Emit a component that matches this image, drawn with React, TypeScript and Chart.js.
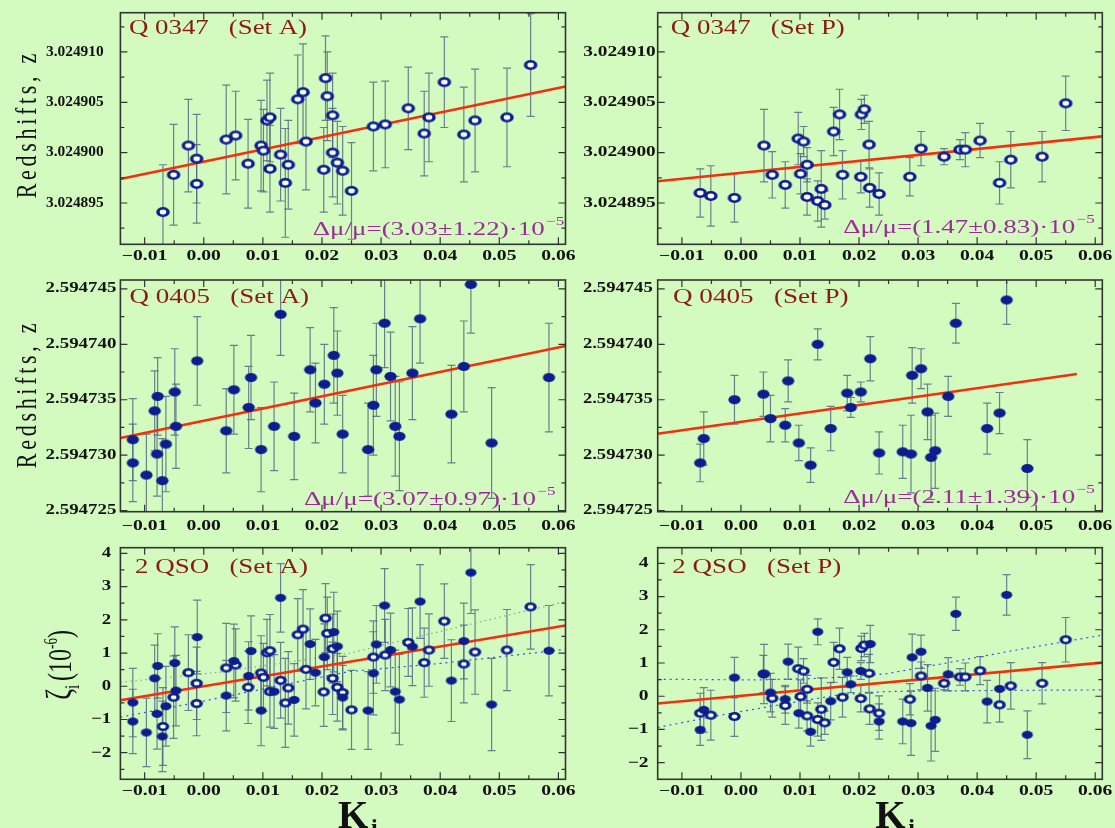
import { useEffect, useRef } from 'react';
import { Chart, registerables } from 'chart.js';

Chart.register(...registerables);

// ---------- axes ----------
const K_MIN = -0.0141;
const K_MAX = 0.0612;
const kTicks = [-0.01, 0.0, 0.01, 0.02, 0.03, 0.04, 0.05, 0.06];
const zTicksQ0347 = [3.024895, 3.0249, 3.024905, 3.02491];
const zTicksQ0405 = [2.594725, 2.59473, 2.594735, 2.59474, 2.594745];
const zetaTicks = [-2, -1, 0, 1, 2, 3, 4];

// ---------- Q 0347, Set A ----------
const kQ0347A = [-0.0069, -0.0051, -0.0026, -0.0012, -0.0012, 0.0038, 0.0054, 0.0075, 0.0097, 0.0101, 0.0107, 0.0112, 0.0112, 0.013, 0.0138, 0.0143, 0.0159, 0.0168, 0.0173, 0.0203, 0.0206, 0.0209, 0.0218, 0.0218, 0.0226, 0.0235, 0.025, 0.0287, 0.0307, 0.0346, 0.0373, 0.0381, 0.0407, 0.044, 0.0459, 0.0513, 0.0553];
const zQ0347A = [3.0248941, 3.0248978, 3.0249007, 3.0248994, 3.0248969, 3.0249013, 3.0249017, 3.0248989, 3.0249007, 3.0249002, 3.0249032, 3.0249035, 3.0248984, 3.0248998, 3.024897, 3.0248988, 3.0249053, 3.024906, 3.0249011, 3.0248983, 3.0249074, 3.0249056, 3.0249037, 3.0249, 3.024899, 3.0248982, 3.0248962, 3.0249026, 3.0249028, 3.0249044, 3.0249019, 3.0249035, 3.024907, 3.0249018, 3.0249032, 3.0249035, 3.0249087];
const errQ0347A = [4.7, 5.0, 4.6, 4.4, 3.9, 5.4, 4.4, 4.4, 4.5, 4.1, 4.0, 4.4, 4.3, 4.6, 5.4, 4.4, 4.4, 4.8, 4.8, 4.2, 4.2, 4.4, 4.2, 4.4, 4.1, 4.4, 4.8, 4.4, 4.3, 4.1, 4.2, 4.4, 4.5, 4.7, 5.1, 4.9, 5.1];

// ---------- Q 0347, Set P ----------
const kQ0347P = [-0.0069, -0.0051, -0.0011, 0.0039, 0.0053, 0.0075, 0.0097, 0.0101, 0.0106, 0.0112, 0.0112, 0.013, 0.0136, 0.0142, 0.0157, 0.0167, 0.0172, 0.0203, 0.0204, 0.0209, 0.0217, 0.0218, 0.0234, 0.0286, 0.0305, 0.0344, 0.0371, 0.038, 0.0405, 0.0438, 0.0457, 0.051, 0.055];
const zQ0347P = [3.024896, 3.0248957, 3.0248955, 3.0249007, 3.0248978, 3.0248968, 3.0249014, 3.0248979, 3.0249011, 3.0248988, 3.0248956, 3.0248952, 3.0248964, 3.0248948, 3.0249021, 3.0249038, 3.0248978, 3.0248976, 3.0249038, 3.0249043, 3.0249008, 3.0248965, 3.0248959, 3.0248976, 3.0249004, 3.0248996, 3.0249003, 3.0249003, 3.0249012, 3.024897, 3.0248993, 3.0248996, 3.0249049];
const errQ0347P = [2.4, 3.0, 2.4, 3.6, 2.3, 2.3, 2.6, 2.0, 1.5, 1.7, 1.8, 2.0, 3.8, 1.4, 2.4, 2.5, 2.4, 1.6, 1.5, 1.4, 2.3, 1.9, 2.1, 1.9, 1.7, 0.8, 1.0, 1.7, 1.7, 2.1, 2.8, 2.5, 2.7];

// ---------- Q 0405, Set A ----------
const kQ0405A = [-0.012, -0.012, -0.0097, -0.0083, -0.0079, -0.0078, -0.007, -0.0064, -0.0049, -0.0047, -0.0011, 0.0038, 0.0051, 0.0076, 0.008, 0.0097, 0.0119, 0.013, 0.0153, 0.018, 0.0189, 0.0204, 0.022, 0.0226, 0.0235, 0.0278, 0.0287, 0.0292, 0.0306, 0.0316, 0.0324, 0.0331, 0.0353, 0.0366, 0.0419, 0.044, 0.0452, 0.0487, 0.0584];
const zQ0405A = [2.5947314, 2.5947293, 2.5947282, 2.594734, 2.5947301, 2.5947353, 2.5947277, 2.594731, 2.5947357, 2.5947326, 2.5947385, 2.5947322, 2.5947359, 2.5947343, 2.594737, 2.5947305, 2.5947326, 2.5947427, 2.5947317, 2.5947377, 2.5947347, 2.5947364, 2.594739, 2.5947374, 2.5947319, 2.5947305, 2.5947345, 2.5947377, 2.5947419, 2.5947371, 2.5947326, 2.5947317, 2.5947374, 2.5947423, 2.5947337, 2.594738, 2.5947454, 2.5947311, 2.594737];
const errQ0405A = [3.7, 3.5, 3.7, 3.6, 3.8, 3.5, 3.8, 4.3, 3.9, 3.8, 4.0, 3.8, 4.0, 3.7, 3.8, 3.8, 4.0, 3.7, 3.9, 3.8, 3.6, 3.6, 4.3, 3.8, 3.5, 4.2, 4.5, 4.2, 4.0, 4.0, 4.5, 4.9, 4.2, 4.0, 4.4, 4.1, 4.4, 5.0, 4.9];

// ---------- Q 0405, Set P ----------
const kQ0405P = [-0.0069, -0.0063, -0.0011, 0.0038, 0.005, 0.0075, 0.008, 0.0098, 0.0118, 0.013, 0.0152, 0.018, 0.0186, 0.0203, 0.0219, 0.0234, 0.0274, 0.0288, 0.029, 0.0305, 0.0316, 0.0322, 0.0329, 0.0351, 0.0364, 0.0417, 0.0438, 0.045, 0.0485];
const zQ0405P = [2.5947293, 2.5947315, 2.594735, 2.5947355, 2.5947333, 2.5947327, 2.5947367, 2.5947311, 2.5947291, 2.59474, 2.5947324, 2.5947356, 2.5947343, 2.5947357, 2.5947387, 2.5947302, 2.5947303, 2.5947301, 2.5947372, 2.5947378, 2.5947339, 2.5947298, 2.5947304, 2.5947353, 2.5947419, 2.5947324, 2.5947338, 2.594744, 2.5947288];
const errQ0405P = [1.7, 2.4, 2.2, 2.0, 2.1, 1.5, 1.9, 1.6, 1.55, 1.4, 2.0, 1.6, 0.9, 0.9, 2.0, 1.9, 2.4, 3.5, 2.5, 1.8, 2.5, 3.8, 3.4, 1.8, 1.8, 2.3, 1.85, 2.2, 2.6];

// ---------- 2 QSO: zeta_i (10^-6) ----------
const zetaQ0347A = [-1.21, -0.33, 0.41, 0.09, -0.52, 0.55, 0.64, -0.03, 0.4, 0.27, 1.01, 1.07, -0.16, 0.18, -0.5, -0.05, 1.55, 1.72, 0.51, -0.17, 2.05, 1.59, 1.13, 0.24, -0.03, -0.19, -0.71, 0.88, 0.94, 1.32, 0.71, 1.09, 1.96, 0.67, 1.03, 1.09, 2.39];
const zetaErrQ0347A = [1.17, 1.24, 1.14, 1.09, 0.97, 1.34, 1.09, 1.09, 1.12, 1.02, 1.0, 1.09, 1.07, 1.14, 1.34, 1.09, 1.09, 1.19, 1.19, 1.04, 1.04, 1.09, 1.04, 1.09, 1.02, 1.09, 1.19, 1.09, 1.07, 1.02, 1.04, 1.09, 1.12, 1.17, 1.27, 1.22, 1.27];
const zetaQ0405A = [-0.49, -1.06, -1.39, 0.24, -0.83, 0.61, -1.51, -0.6, 0.7, -0.13, 1.48, -0.28, 0.76, 0.31, 1.06, -0.73, -0.16, 2.66, -0.41, 1.27, 0.41, 0.88, 1.63, 1.2, -0.34, -0.73, 0.39, 1.26, 2.43, 1.09, -0.16, -0.4, 1.19, 2.55, 0.17, 1.36, 3.42, -0.55, 1.07];
const zetaErrQ0405A = [1.03, 0.97, 1.03, 1.0, 1.06, 0.97, 1.06, 1.2, 1.09, 1.06, 1.11, 1.06, 1.11, 1.03, 1.06, 1.06, 1.11, 1.03, 1.09, 1.06, 1.0, 1.0, 1.2, 1.06, 0.97, 1.17, 1.25, 1.17, 1.11, 1.11, 1.25, 1.36, 1.17, 1.11, 1.23, 1.14, 1.23, 1.39, 1.36];
const zetaQ0347P = [-0.51, -0.57, -0.61, 0.67, -0.06, -0.28, 0.83, -0.01, 0.76, 0.21, -0.59, -0.7, -0.39, -0.8, 1.02, 1.43, -0.03, -0.07, 1.44, 1.54, 0.69, -0.38, -0.51, -0.09, 0.61, 0.39, 0.58, 0.58, 0.77, -0.26, 0.31, 0.39, 1.7];
const zetaErrQ0347P = [0.6, 0.75, 0.6, 0.89, 0.57, 0.57, 0.65, 0.5, 0.37, 0.42, 0.45, 0.5, 0.94, 0.35, 0.6, 0.62, 0.6, 0.4, 0.37, 0.35, 0.57, 0.47, 0.52, 0.47, 0.42, 0.2, 0.25, 0.42, 0.42, 0.52, 0.7, 0.62, 0.67];
const zetaQ0405P = [-1.01, -0.41, 0.56, 0.67, 0.11, -0.09, 1.04, -0.51, -1.07, 1.94, -0.15, 0.72, 0.36, 0.76, 1.57, -0.76, -0.76, -0.81, 1.17, 1.34, 0.25, -0.89, -0.71, 0.66, 2.48, -0.16, 0.22, 3.05, -1.16];
const zetaErrQ0405P = [0.47, 0.67, 0.61, 0.56, 0.58, 0.42, 0.53, 0.45, 0.43, 0.39, 0.56, 0.45, 0.25, 0.25, 0.56, 0.53, 0.67, 0.97, 0.7, 0.5, 0.7, 1.06, 0.95, 0.5, 0.5, 0.64, 0.51, 0.61, 0.72];

// ---------- fits ----------
// Δμ/μ in units of 10^-5 with its error, and z at K = 0
const dmuQ0347A = [3.03, 1.22];
const dmuQ0347P = [1.47, 0.83];
const dmuQ0405A = [3.07, 0.97];
const dmuQ0405P = [2.11, 1.39];
const z0Q0347A = 3.0248991;
const z0Q0347P = 3.024898;
const z0Q0405A = 2.5947331;
const z0Q0405P = 2.594733;
const fitEndQ0405P = 0.0569;

// 2 QSO fits and their dotted bands (K, zeta)
const zetaFitAK = [K_MIN, K_MAX];
const zetaFitA = [-0.42, 1.83];
const zetaBandHiAK = [K_MIN, 0.0025, 0.0245, K_MAX];
const zetaBandHiA = [0.12, 0.42, 0.99, 2.55];
const zetaBandLoAK = [K_MIN, -0.0004, 0.0109, 0.0245, 0.0401, K_MAX];
const zetaBandLoA = [-0.93, -0.46, -0.05, 0.44, 0.69, 1.11];
const zetaFitPK = [K_MIN, K_MAX];
const zetaFitP = [-0.22, 1.01];
const zetaBandHiPK = [K_MIN, 0.0024, 0.0137, 0.0244, 0.0345, 0.0457, K_MAX];
const zetaBandHiP = [0.51, 0.49, 0.54, 0.67, 0.99, 1.36, 1.84];
const zetaBandLoPK = [K_MIN, -0.0032, 0.0081, 0.0165, 0.0244, 0.0401, K_MAX];
const zetaBandLoP = [-0.94, -0.56, -0.21, 0.04, 0.14, 0.17, 0.19];

// ---------- styling ----------
const BG = '#d3fbbf';
const NAVY = '#0c1e8e';
const ERR_COLOR = 'rgba(78, 98, 128, 0.8)';
const RED = '#f0300f';
const TITLE_COLOR = '#8b1a12';
const NOTE_COLOR = '#9a2c98';
const FRAME = '#333333';
const BLUE_DOT = '#2f55e8';
const GREEN_DOT = '#86a886';
const SERIF = '"Liberation Serif", "Times New Roman", serif';

const fitZ = (z0: number, dmu: number, k: number) => z0 + (1 + z0) * dmu * 1e-5 * k;

type Series = { k: number[]; v: number[]; err: number[]; unit: number; open: boolean };
type Line = { k: number[]; v: number[]; color: string; width: number; dash?: number[] };
type Panel = {
  box: { x: number; y: number; w: number; h: number };
  pad: { left: number; top: number; right: number; bottom: number };
  yMin: number; yMax: number; yTicks: number[]; yFmt: (v: number) => string;
  yFont: string; yGap: number; yStretch: number; xLabelOffset: number;
  series: Series[]; lines: Line[]; small: boolean;
  title: string; titleDx: number; titleDy: number; titleW: number;
  note?: { dmu: number[]; dx: number; dy: number };
  yTitle?: 'z' | 'zeta'; yTitleDy?: number; xTitle?: boolean;
};

const fmtZ = (v: number) => v.toFixed(6);
const fmtInt = (v: number) => (v < 0 ? '\u2212' + Math.abs(v) : String(v));
const fmtK = (v: number) => (v < -1e-9 ? '\u2212' : '') + Math.abs(v).toFixed(2);

const zLine = (z0: number, dmu: number[], kEnd: number): Line => ({
  k: [K_MIN, kEnd],
  v: [fitZ(z0, dmu[0], K_MIN), fitZ(z0, dmu[0], kEnd)],
  color: RED,
  width: 2.6,
});

const panels: Panel[] = [
  {
    box: { x: 0, y: 0, w: 600, h: 270 },
    pad: { left: 120.4, top: 12.7, right: 34.5, bottom: 25.7 },
    yMin: 3.0248909, yMax: 3.0249139, yTicks: zTicksQ0347, yFmt: fmtZ,
    yFont: `bold 14px ${SERIF}`, yGap: 16.7, yStretch: 1.1, xLabelOffset: 12.4,
    series: [{ k: kQ0347A, v: zQ0347A, err: errQ0347A, unit: 1e-6, open: true }],
    lines: [zLine(z0Q0347A, dmuQ0347A, K_MAX)], small: false,
    title: 'Q 0347   (Set A)', titleDx: 8.6, titleDy: 21.6, titleW: 178,
    note: { dmu: dmuQ0347A, dx: 192.3, dy: -9.3 },
    yTitle: 'z', yTitleDy: -2.5,
  },
  {
    box: { x: 570, y: 0, w: 545, h: 270 },
    pad: { left: 87.7, top: 12.7, right: 12.7, bottom: 25.7 },
    yMin: 3.0248909, yMax: 3.0249139, yTicks: zTicksQ0347, yFmt: fmtZ,
    yFont: `bold 14px ${SERIF}`, yGap: 2, yStretch: 1.38, xLabelOffset: 12.4,
    series: [{ k: kQ0347P, v: zQ0347P, err: errQ0347P, unit: 1e-6, open: true }],
    lines: [zLine(z0Q0347P, dmuQ0347P, K_MAX)], small: false,
    title: 'Q 0347   (Set P)', titleDx: 13.1, titleDy: 21.6, titleW: 174,
    note: { dmu: dmuQ0347P, dx: 185.5, dy: -11 },
  },
  {
    box: { x: 0, y: 270, w: 600, h: 265 },
    pad: { left: 120.4, top: 10, right: 34.5, bottom: 23.3 },
    yMin: 2.5947249, yMax: 2.5947458, yTicks: zTicksQ0405, yFmt: fmtZ,
    yFont: `bold 14px ${SERIF}`, yGap: 4, yStretch: 1.35, xLabelOffset: 15,
    series: [{ k: kQ0405A, v: zQ0405A, err: errQ0405A, unit: 1e-6, open: false }],
    lines: [zLine(z0Q0405A, dmuQ0405A, K_MAX)], small: false,
    title: 'Q 0405   (Set A)', titleDx: 9.1, titleDy: 23.3, titleW: 179.6,
    note: { dmu: dmuQ0405A, dx: 183.6, dy: -6.7 },
    yTitle: 'z', yTitleDy: 0,
  },
  {
    box: { x: 570, y: 270, w: 545, h: 265 },
    pad: { left: 87.7, top: 10, right: 12.7, bottom: 23.3 },
    yMin: 2.5947249, yMax: 2.5947458, yTicks: zTicksQ0405, yFmt: fmtZ,
    yFont: `bold 14px ${SERIF}`, yGap: 5, yStretch: 1.33, xLabelOffset: 15,
    series: [{ k: kQ0405P, v: zQ0405P, err: errQ0405P, unit: 1e-6, open: false }],
    lines: [zLine(z0Q0405P, dmuQ0405P, fitEndQ0405P)], small: false,
    title: 'Q 0405   (Set P)', titleDx: 15.3, titleDy: 23.3, titleW: 175.5,
    note: { dmu: dmuQ0405P, dx: 185.5, dy: -8.4 },
  },
  {
    box: { x: 0, y: 535, w: 600, h: 293 },
    pad: { left: 120.4, top: 12.7, right: 34.5, bottom: 48.7 },
    yMin: -2.8, yMax: 4.17, yTicks: zetaTicks, yFmt: fmtInt,
    yFont: `bold 15px ${SERIF}`, yGap: 9.4, yStretch: 1.25, xLabelOffset: 12.4,
    series: [
      { k: kQ0347A, v: zetaQ0347A, err: zetaErrQ0347A, unit: 1, open: true },
      { k: kQ0405A, v: zetaQ0405A, err: zetaErrQ0405A, unit: 1, open: false },
    ],
    lines: [
      { k: zetaFitAK, v: zetaFitA, color: RED, width: 2.6 },
      { k: zetaBandHiAK, v: zetaBandHiA, color: GREEN_DOT, width: 1.2, dash: [1.5, 3.5] },
      { k: zetaBandLoAK, v: zetaBandLoA, color: BLUE_DOT, width: 1.2, dash: [2, 4] },
    ],
    small: true,
    title: '2 QSO   (Set A)', titleDx: 14.6, titleDy: 25.6, titleW: 173,
    yTitle: 'zeta', xTitle: true,
  },
  {
    box: { x: 570, y: 535, w: 545, h: 293 },
    pad: { left: 87.7, top: 12.7, right: 12.7, bottom: 48.7 },
    yMin: -2.5, yMax: 4.47, yTicks: zetaTicks, yFmt: fmtInt,
    yFont: `bold 15px ${SERIF}`, yGap: 9.2, yStretch: 1.3, xLabelOffset: 12.4,
    series: [
      { k: kQ0347P, v: zetaQ0347P, err: zetaErrQ0347P, unit: 1, open: true },
      { k: kQ0405P, v: zetaQ0405P, err: zetaErrQ0405P, unit: 1, open: false },
    ],
    lines: [
      { k: zetaFitPK, v: zetaFitP, color: RED, width: 2.6 },
      { k: zetaBandHiPK, v: zetaBandHiP, color: BLUE_DOT, width: 1.2, dash: [2, 4] },
      { k: zetaBandLoPK, v: zetaBandLoP, color: BLUE_DOT, width: 1.2, dash: [2, 4] },
    ],
    small: true,
    title: '2 QSO   (Set P)', titleDx: 14.6, titleDy: 25.6, titleW: 169,
    xTitle: true,
  },
];

// Elliptical marker bitmaps (a circle widened horizontally, stroke included)
function ellipseMarker(w: number, h: number, open: boolean): HTMLCanvasElement {
  const c = document.createElement('canvas');
  c.width = Math.ceil(w) + 4;
  c.height = Math.ceil(h) + 4;
  const g = c.getContext('2d')!;
  const sx = w / h;
  const stroke = 2.5;
  g.translate(c.width / 2, c.height / 2);
  g.scale(sx, 1);
  g.beginPath();
  g.arc(0, 0, open ? h / 2 - stroke / 2 : h / 2, 0, Math.PI * 2);
  if (open) {
    g.fillStyle = '#ffffff';
    g.fill();
    g.lineWidth = stroke;
    g.strokeStyle = NAVY;
    g.stroke();
  } else {
    g.fillStyle = NAVY;
    g.fill();
  }
  return c;
}

function minorsOf(majors: number[], lo: number, hi: number): number[] {
  const step = majors[1] - majors[0];
  const out = majors.map((m) => m - step / 2);
  out.push(majors[majors.length - 1] + step / 2);
  return out.filter((v) => v > lo && v < hi);
}

function drawStretched(ctx: CanvasRenderingContext2D, text: string, x: number, y: number, sx: number, align: 'left' | 'right' | 'center') {
  const w = ctx.measureText(text).width * sx;
  const x0 = align === 'left' ? x : align === 'right' ? x - w : x - w / 2;
  ctx.save();
  ctx.translate(x0, y);
  ctx.scale(sx, 1);
  ctx.textAlign = 'left';
  ctx.fillText(text, 0, 0);
  ctx.restore();
  return w;
}

function drawRedshiftTitle(ctx: CanvasRenderingContext2D, baseX: number, cy: number) {
  const text = 'Redshifts, z';
  const spacing = 3.7;
  ctx.save();
  ctx.font = `22px ${SERIF}`;
  ctx.fillStyle = '#111';
  ctx.textBaseline = 'alphabetic';
  ctx.textAlign = 'left';
  const chars = [...text];
  const widths = chars.map((c) => ctx.measureText(c).width);
  const total = widths.reduce((s, w) => s + w, 0) + spacing * (chars.length - 1);
  ctx.translate(baseX, cy);
  ctx.scale(1.35, 1);
  ctx.rotate(-Math.PI / 2);
  let u = -total / 2;
  chars.forEach((c, i) => {
    ctx.fillText(c, u, 0);
    u += widths[i] + spacing;
  });
  ctx.restore();
}

function drawZetaTitle(ctx: CanvasRenderingContext2D, baseX: number, cy: number) {
  const pieces = [
    { t: '\u03b6', f: `26px ${SERIF}`, dy: 0, gap: 0 },
    { t: 'i', f: `15px ${SERIF}`, dy: 6, gap: 4 },
    { t: '(10', f: `24px ${SERIF}`, dy: 0, gap: 0 },
    { t: '-6', f: `13px ${SERIF}`, dy: -10, gap: 0 },
    { t: ')', f: `24px ${SERIF}`, dy: 0, gap: 0 },
  ];
  ctx.save();
  ctx.fillStyle = '#111';
  ctx.textBaseline = 'alphabetic';
  ctx.textAlign = 'left';
  const widths = pieces.map((p) => {
    ctx.font = p.f;
    return ctx.measureText(p.t).width;
  });
  const total = widths.reduce((s, w, i) => s + w + pieces[i].gap, 0);
  ctx.translate(baseX, cy);
  ctx.scale(1.4, 1);
  ctx.rotate(-Math.PI / 2);
  let u = -total / 2;
  pieces.forEach((p, i) => {
    ctx.font = p.f;
    ctx.fillText(p.t, u, p.dy);
    u += widths[i] + p.gap;
  });
  ctx.restore();
}

function decorPlugin(p: Panel) {
  return {
    id: 'panelDecor',
    beforeDatasetsDraw(chart: any) {
      const { ctx, chartArea: a } = chart;
      const xs = chart.scales.x;
      const ys = chart.scales.y;
      ctx.save();
      ctx.beginPath();
      ctx.rect(a.left, a.top, a.right - a.left, a.bottom - a.top);
      ctx.clip();
      ctx.strokeStyle = ERR_COLOR;
      ctx.lineWidth = 1.2;
      const cap = 4;
      for (const s of p.series) {
        s.k.forEach((k, i) => {
          const px = xs.getPixelForValue(k);
          const hi = ys.getPixelForValue(s.v[i] + s.err[i] * s.unit);
          const lo = ys.getPixelForValue(s.v[i] - s.err[i] * s.unit);
          ctx.beginPath();
          ctx.moveTo(px, hi);
          ctx.lineTo(px, lo);
          ctx.moveTo(px - cap, hi);
          ctx.lineTo(px + cap, hi);
          ctx.moveTo(px - cap, lo);
          ctx.lineTo(px + cap, lo);
          ctx.stroke();
        });
      }
      ctx.restore();
    },
    afterDatasetsDraw(chart: any) {
      const { ctx, chartArea: a } = chart;
      const xs = chart.scales.x;
      const ys = chart.scales.y;
      ctx.save();

      // frame
      ctx.strokeStyle = FRAME;
      ctx.lineWidth = 1.6;
      ctx.strokeRect(a.left, a.top, a.right - a.left, a.bottom - a.top);

      // inward ticks on all four sides
      ctx.lineWidth = 1.2;
      ctx.beginPath();
      const tickX = (v: number, len: number) => {
        const px = xs.getPixelForValue(v);
        ctx.moveTo(px, a.bottom);
        ctx.lineTo(px, a.bottom - len);
        ctx.moveTo(px, a.top);
        ctx.lineTo(px, a.top + len);
      };
      const tickY = (v: number, len: number) => {
        const py = ys.getPixelForValue(v);
        ctx.moveTo(a.left, py);
        ctx.lineTo(a.left + len, py);
        ctx.moveTo(a.right, py);
        ctx.lineTo(a.right - len, py);
      };
      kTicks.forEach((v) => tickX(v, 7));
      minorsOf(kTicks, K_MIN, K_MAX).forEach((v) => tickX(v, 4));
      p.yTicks.filter((v) => v >= p.yMin && v <= p.yMax).forEach((v) => tickY(v, 7));
      minorsOf(p.yTicks, p.yMin, p.yMax).forEach((v) => tickY(v, 4));
      ctx.stroke();

      // tick labels
      ctx.fillStyle = '#111';
      ctx.textBaseline = 'middle';
      ctx.font = `bold 14px ${SERIF}`;
      kTicks.forEach((v) => {
        drawStretched(ctx, fmtK(v), xs.getPixelForValue(v), a.bottom + p.xLabelOffset, 1.4, 'center');
      });
      ctx.font = p.yFont;
      p.yTicks.forEach((v) => {
        drawStretched(ctx, p.yFmt(v), a.left - p.yGap, ys.getPixelForValue(v), p.yStretch, 'right');
      });

      // panel title
      ctx.textBaseline = 'alphabetic';
      ctx.font = `21px ${SERIF}`;
      ctx.fillStyle = TITLE_COLOR;
      const tw = ctx.measureText(p.title).width;
      drawStretched(ctx, p.title, a.left + p.titleDx, a.top + p.titleDy, p.titleW / tw, 'left');

      // Δμ/μ result
      if (p.note) {
        const [m, e] = p.note.dmu;
        const main = `\u0394\u03bc/\u03bc=(${m.toFixed(2)}\u00b1${e.toFixed(2)})\u00b710`;
        ctx.fillStyle = NOTE_COLOR;
        ctx.font = `19px ${SERIF}`;
        const sx = 232 / ctx.measureText(main).width;
        const x0 = a.left + p.note.dx;
        const base = a.bottom + p.note.dy;
        const w = drawStretched(ctx, main, x0, base, sx, 'left');
        ctx.font = `12px ${SERIF}`;
        drawStretched(ctx, '\u22125', x0 + w + 1.5, base - 10, sx, 'left');
      }

      // axis titles
      const cy = (a.top + a.bottom) / 2;
      if (p.yTitle === 'z') drawRedshiftTitle(ctx, 36, cy + (p.yTitleDy || 0));
      if (p.yTitle === 'zeta') drawZetaTitle(ctx, 71, cy + 1.5);
      if (p.xTitle) {
        ctx.fillStyle = '#111';
        ctx.textAlign = 'left';
        const kx = a.left + 217.6;
        ctx.font = `bold 39px ${SERIF}`;
        ctx.fillText('K', kx, a.bottom + 48.5);
        ctx.font = `bold 24px ${SERIF}`;
        ctx.fillText('i', kx + 33, a.bottom + 56);
      }
      ctx.restore();
    },
  };
}

function buildConfig(p: Panel): any {
  const datasets: any[] = [];
  const ordered = [...p.series].sort((s1, s2) => (s1.open ? 1 : 0) - (s2.open ? 1 : 0));
  for (const s of ordered) {
    const img = s.open
      ? ellipseMarker(p.small ? 12.5 : 13.5, p.small ? 9 : 9.8, true)
      : ellipseMarker(p.small ? 11.2 : 12.3, p.small ? 8 : 9, false);
    datasets.push({
      type: 'scatter',
      data: s.k.map((x, i) => ({ x, y: s.v[i] })),
      pointStyle: img,
      pointRadius: 6,
      pointHoverRadius: 6,
      showLine: false,
    });
  }
  for (const l of p.lines) {
    datasets.push({
      type: 'line',
      data: l.k.map((x, i) => ({ x, y: l.v[i] })),
      borderColor: l.color,
      borderWidth: l.width,
      borderDash: l.dash || [],
      pointRadius: 0,
      fill: false,
      tension: 0,
    });
  }
  return {
    type: 'scatter',
    data: { datasets },
    options: {
      animation: false,
      responsive: false,
      devicePixelRatio: 1,
      events: [],
      layout: { padding: p.pad },
      plugins: { legend: { display: false }, tooltip: { enabled: false } },
      scales: {
        x: { type: 'linear', display: false, min: K_MIN, max: K_MAX },
        y: { type: 'linear', display: false, min: p.yMin, max: p.yMax },
      },
    },
    plugins: [decorPlugin(p)],
  };
}

function PanelChart({ p }: { p: Panel }) {
  const ref = useRef<HTMLCanvasElement>(null);
  useEffect(() => {
    const chart = new Chart(ref.current as HTMLCanvasElement, buildConfig(p));
    return () => chart.destroy();
  }, [p]);
  return (
    <canvas
      ref={ref}
      width={p.box.w}
      height={p.box.h}
      style={{ position: 'absolute', left: p.box.x, top: p.box.y, width: p.box.w, height: p.box.h }}
    />
  );
}

export default function App() {
  return (
    <div style={{ position: 'fixed', left: 0, top: 0, width: 1115, height: 828, background: BG, overflow: 'hidden' }}>
      {panels.map((p, i) => (
        <PanelChart key={i} p={p} />
      ))}
    </div>
  );
}
